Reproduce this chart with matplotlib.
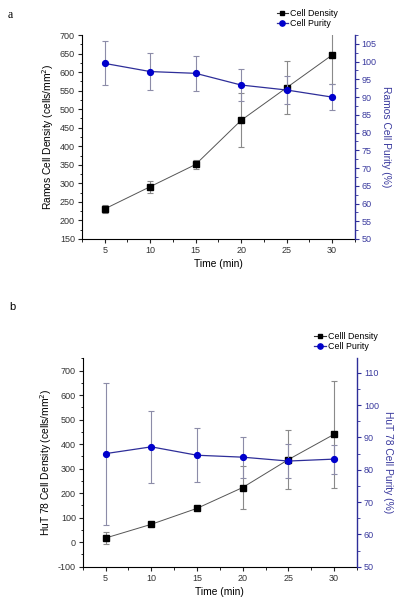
import numpy as np
import matplotlib
matplotlib.use("Agg")
import matplotlib.pyplot as plt
from matplotlib.ticker import MultipleLocator
from matplotlib.lines import Line2D

plt.rcParams['font.family'] = ['Liberation Sans', 'DejaVu Sans']
plt.rcParams['axes.unicode_minus'] = False

# =========================
# DATA
# =========================

time_min = [5, 10, 15, 20, 25, 30]

# panel a - Ramos
ramos_density = [231, 291, 351, 470, 558, 646]
ramos_density_err = [10, 16, 13, 73, 72, 79]
ramos_purity = [99.5, 97.2, 96.7, 93.4, 92.0, 90.0]
ramos_purity_err = [6.2, 5.3, 4.9, 4.5, 3.9, 3.6]

# panel b - HuT 78
hut_density = [17, 73, 138, 223, 337, 440]
hut_density_err = [25, 9, 5, 89, 122, 217]
hut_purity = [85.0, 87.1, 84.5, 83.9, 82.7, 83.3]
hut_purity_err = [22.0, 11.2, 8.4, 6.3, 5.2, 4.5]

BLUE = "#0000cc"
NAVY = "#2e2e99"
GREY = "#8a8a8a"


def draw_panel(ax, density, density_err, purity, purity_err,
               left_lim, right_lim, left_major, left_minor,
               right_major, right_minor, left_label, right_label):
    ax2 = ax.twinx()

    ax.errorbar(time_min, density, yerr=density_err, fmt="none",
                ecolor=GREY, elinewidth=0.8, capsize=2.5, capthick=0.8,
                zorder=2)
    ax.plot(time_min, density, color="#555555", lw=0.7, marker="s",
            ms=4, mfc="black", mec="black", zorder=3)

    ax2.errorbar(time_min, purity, yerr=purity_err, fmt="none",
                 ecolor="#8c8ca8", elinewidth=0.8, capsize=2.5,
                 capthick=0.8, zorder=2)
    ax2.plot(time_min, purity, color=NAVY, lw=0.9, marker="o",
             ms=4.2, mfc=BLUE, mec=BLUE, zorder=3)

    ax.set_xlim(2.5, 32.5)
    ax.set_ylim(*left_lim)
    ax2.set_ylim(*right_lim)

    ax.set_xticks(time_min)
    ax.xaxis.set_minor_locator(MultipleLocator(2.5))
    ax.yaxis.set_major_locator(MultipleLocator(left_major))
    ax.yaxis.set_minor_locator(MultipleLocator(left_minor))
    ax2.yaxis.set_major_locator(MultipleLocator(right_major))
    ax2.yaxis.set_minor_locator(MultipleLocator(right_minor))

    for a in (ax, ax2):
        a.spines["top"].set_visible(False)
        a.tick_params(which="major", length=3, width=0.8, labelsize=6.5,
                      pad=2)
        a.tick_params(which="minor", length=1.8, width=0.6)

    ax.spines["right"].set_visible(False)
    ax2.spines["left"].set_visible(False)
    ax2.spines["bottom"].set_visible(False)
    ax2.spines["right"].set_color(NAVY)
    ax2.spines["right"].set_linewidth(1.0)
    ax2.tick_params(axis="y", which="both", colors=NAVY, labelcolor="#3a3a9e")
    ax.tick_params(colors="#222222", labelcolor="#333333")

    ax.set_xlabel("Time (min)", fontsize=7.4, labelpad=3)
    ax.set_ylabel(left_label, fontsize=7.4, labelpad=3)
    ax2.set_ylabel(right_label, fontsize=7.4, color="#3a3a9e",
                   rotation=270, labelpad=10)

    handles = [
        Line2D([], [], color="#333333", lw=0.8, marker="s", ms=3.5,
               mfc="black", mec="black"),
        Line2D([], [], color=NAVY, lw=0.9, marker="o", ms=3.8,
               mfc=BLUE, mec=BLUE),
    ]
    return ax2, handles


fig = plt.figure(figsize=(4.16, 6.07), dpi=100)

ax_a = fig.add_axes([0.197, 0.6063, 0.656, 0.336])
ax_a2, h_a = draw_panel(ax_a, ramos_density, ramos_density_err,
                        ramos_purity, ramos_purity_err,
                        (150, 700), (50, 107.5), 50, 25, 5, 2.5,
                        "Ramos Cell Density (cells/mm$^2$)",
                        "Ramos Cell Purity (%)")
fig.legend(h_a, ["Cell Density", "Cell Purity"], loc="upper left",
           bbox_to_anchor=(0.665, 0.985), frameon=False, fontsize=6.4,
           handlelength=1.3, handletextpad=0.25, labelspacing=0.15,
           borderaxespad=0, borderpad=0)

ax_b = fig.add_axes([0.199, 0.0664, 0.659, 0.3433])
ax_b2, h_b = draw_panel(ax_b, hut_density, hut_density_err,
                        hut_purity, hut_purity_err,
                        (-100, 750), (50, 114.5), 100, 50, 10, 5,
                        "HuT 78 Cell Density (cells/mm$^2$)",
                        "HuT 78 Cell Purity (%)")
fig.legend(h_b, ["Celll Density", "Cell Purity"], loc="upper left",
           bbox_to_anchor=(0.755, 0.453), frameon=False, fontsize=6.4,
           handlelength=1.3, handletextpad=0.25, labelspacing=0.15,
           borderaxespad=0, borderpad=0)

fig.text(0.018, 0.985, "a", fontsize=8.5, family="Liberation Serif",
         va="top", ha="left")
fig.text(0.022, 0.502, "b", fontsize=8, va="top", ha="left")

fig.savefig("out.png", dpi=100)
